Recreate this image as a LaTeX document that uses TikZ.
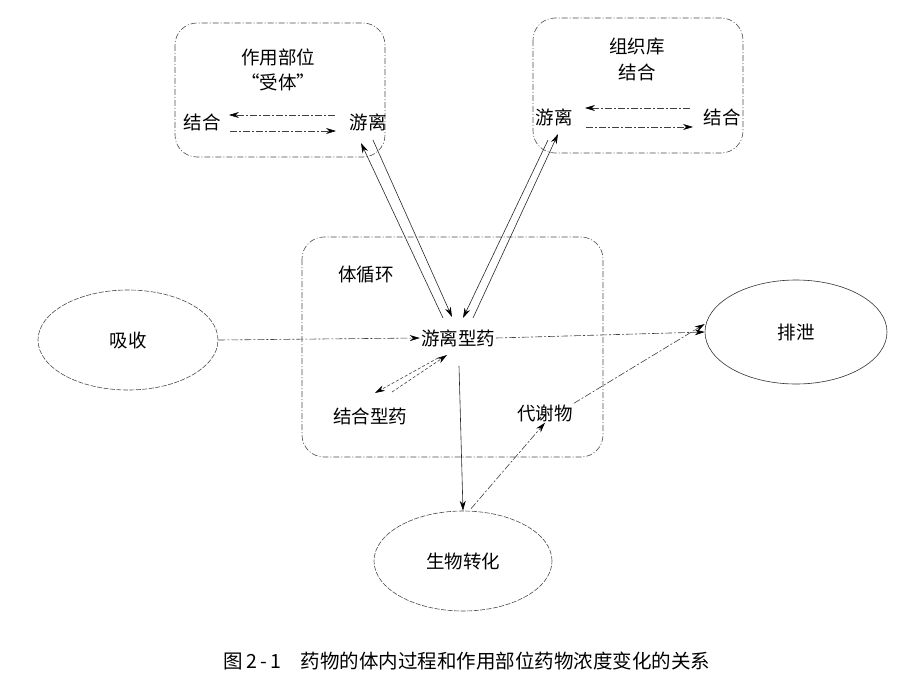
\documentclass[tikz,border=0pt]{standalone}
\usepackage{fontspec}
\setmainfont{Noto Sans CJK SC}
\usetikzlibrary{arrows.meta,shapes.geometric}
\begin{document}
\begin{tikzpicture}[x=1pt,y=-1pt,
  lbl/.style={font=\fontsize{18.5}{20}\selectfont, inner sep=1pt},
  region/.style={draw=black!70, dash pattern=on 6pt off 2pt on 1pt off 2pt, rounded corners=22pt, line width=0.6pt},
  oval/.style={draw=black!70, ellipse, dash pattern=on 5pt off 1.5pt, line width=0.6pt},
  dline/.style={draw=black!75, dash pattern=on 7pt off 2pt on 2pt off 2pt, line width=0.6pt, -{Stealth[length=10pt,width=6pt,black]}},
  sline/.style={draw=black!85, line width=0.6pt, -{Stealth[length=10pt,width=6pt,black]}}]
\useasboundingbox (0,0) rectangle (920,690);
% boxes
\draw[region] (175,23) rectangle (385,157);
\draw[region] (533,18) rectangle (743,153);
\draw[region] (302,237) rectangle (603,457);
\node[oval, minimum width=180pt, minimum height=100pt] (abs) at (128,340) {};
\node[oval, minimum width=182pt, minimum height=104pt, draw=black!80, solid] (exc) at (796,332) {};
\node[oval, minimum width=178pt, minimum height=100pt] (bio) at (463,561) {};
\node[lbl] at (128,340) {吸收};
\node[lbl] at (796,332) {排泄};
\node[lbl] at (463,561) {生物转化};
% texts
\node[lbl] (t1) at (278,57) {作用部位};
\node[lbl] (t2) at (278,82) {“受体”};
\node[lbl] (rb) at (202,122) {结合};
\node[lbl] (rf) at (368,122) {游离};
\node[lbl] (t3) at (637,47) {组织库};
\node[lbl] (t4) at (637,72) {结合};
\node[lbl] (sf) at (554,117) {游离};
\node[lbl] (sb) at (722,117) {结合};
\node[lbl] (sys) at (366,275) {体循环};
\node[lbl] (free) at (458,338) {游离型药};
\node[lbl] (bound) at (370,416) {结合型药};
\node[lbl] (met) at (545,413) {代谢物};
\node[font=\fontsize{19.5}{21}\selectfont] (cap) at (467,661) {图\,2\,-\,1\quad 药物的体内过程和作用部位药物浓度变化的关系};
% receptor box arrows
\draw[dline] (335,115) -- (229,115);
\draw[dline] (230,131) -- (336,131);
% tissue box arrows
\draw[dline] (690,108) -- (585,108);
\draw[dline] (586,127) -- (693,127);
% double lines to receptor
\coordinate (a1) at (443,318);
\coordinate (a2) at (361,143);
\coordinate (a3) at (373,140);
\coordinate (a4) at (452,317);
\draw[sline] (a1) -- (a2);
\draw[sline] (a3) -- (a4);
% double lines to tissue
\coordinate (b1) at (548,140);
\coordinate (b2) at (463,318);
\coordinate (b3) at (473,318);
\coordinate (b4) at (558,134);
\draw[sline] (b1) -- (b2);
\draw[sline] (b3) -- (b4);
% main flow
\draw[dline] (abs.east) -- (free.west);
\draw[dline] (free.east) -- (exc.west);
\draw[dline] (met.north east) -- ([yshift=8pt]exc.west);
\draw[sline] (free.south) ++(1,18) -- (bio.north);
\draw[dline] (bio.north) ++(8,-2) -- (met.south);
% free <-> bound
\coordinate (c1) at (438,358);
\coordinate (c2) at (375,393);
\coordinate (c3) at (392,392);
\coordinate (c4) at (447,355);
\draw[dline, dash pattern=on 3pt off 2pt] (c1) -- (c2);
\draw[dline, dash pattern=on 3pt off 2pt] (c3) -- (c4);
\end{tikzpicture}
\end{document}
